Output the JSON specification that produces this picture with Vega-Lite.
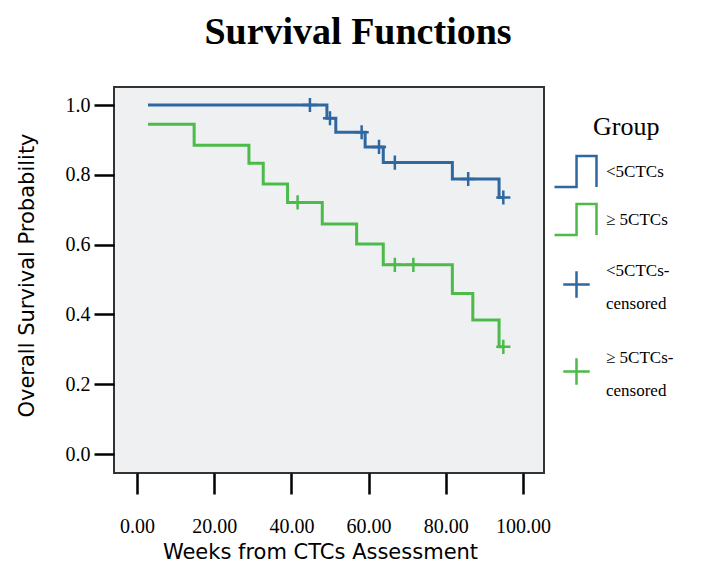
{
  "$schema": "https://vega.github.io/schema/vega-lite/v6.json",
  "width": 430,
  "height": 386,
  "autosize": {"type": "none"},
  "padding": {"left": 114, "top": 87, "right": 168, "bottom": 92},
  "background": "white",
  "title": {
    "text": "Survival Functions",
    "font": "Liberation Serif",
    "fontSize": 38,
    "fontWeight": "bold",
    "color": "black",
    "anchor": "middle",
    "dx": 29,
    "offset": 5,
    "baseline": "alphabetic"
  },
  "config": {
    "view": {"fill": "#eef0f2", "stroke": "#333333", "strokeWidth": 2},
    "legend": {"padding": 0},
    "style": {"guide-label": {"lineHeight": 33}}
  },
  "resolve": {"scale": {"color": "independent"}},
  "datasets": {
    "curves": [
      {"group": "<5CTCs", "t": 2.85, "s": 1.0},
      {"group": "<5CTCs", "t": 49.2, "s": 0.962},
      {"group": "<5CTCs", "t": 51.5, "s": 0.922},
      {"group": "<5CTCs", "t": 59.1, "s": 0.88},
      {"group": "<5CTCs", "t": 63.8, "s": 0.835},
      {"group": "<5CTCs", "t": 81.7, "s": 0.788},
      {"group": "<5CTCs", "t": 93.8, "s": 0.735},
      {"group": "<5CTCs", "t": 94.9, "s": 0.735},
      {"group": "≥ 5CTCs", "t": 2.85, "s": 0.945},
      {"group": "≥ 5CTCs", "t": 14.8, "s": 0.885},
      {"group": "≥ 5CTCs", "t": 29.0, "s": 0.833},
      {"group": "≥ 5CTCs", "t": 32.7, "s": 0.774},
      {"group": "≥ 5CTCs", "t": 39.0, "s": 0.721},
      {"group": "≥ 5CTCs", "t": 48.0, "s": 0.659},
      {"group": "≥ 5CTCs", "t": 56.9, "s": 0.602},
      {"group": "≥ 5CTCs", "t": 63.8, "s": 0.542},
      {"group": "≥ 5CTCs", "t": 81.7, "s": 0.46},
      {"group": "≥ 5CTCs", "t": 87.0, "s": 0.384},
      {"group": "≥ 5CTCs", "t": 93.8, "s": 0.307},
      {"group": "≥ 5CTCs", "t": 94.9, "s": 0.307}
    ],
    "censored": [
      {"cens": "<5CTCs-censored", "t": 44.8, "s": 1.0},
      {"cens": "<5CTCs-censored", "t": 50.0, "s": 0.962},
      {"cens": "<5CTCs-censored", "t": 58.2, "s": 0.922},
      {"cens": "<5CTCs-censored", "t": 62.7, "s": 0.88},
      {"cens": "<5CTCs-censored", "t": 66.8, "s": 0.835},
      {"cens": "<5CTCs-censored", "t": 85.8, "s": 0.788},
      {"cens": "<5CTCs-censored", "t": 94.9, "s": 0.735},
      {"cens": "≥ 5CTCs-censored", "t": 41.6, "s": 0.721},
      {"cens": "≥ 5CTCs-censored", "t": 66.8, "s": 0.542},
      {"cens": "≥ 5CTCs-censored", "t": 71.6, "s": 0.542},
      {"cens": "≥ 5CTCs-censored", "t": 94.9, "s": 0.307}
    ]
  },
  "encoding": {
    "x": {
      "field": "t",
      "type": "quantitative",
      "scale": {"domain": [-5.96, 105.44], "nice": false, "zero": false},
      "axis": {
        "values": [0, 20, 40, 60, 80, 100],
        "format": ".2f",
        "title": "Weeks from CTCs Assessment",
        "domain": false,
        "grid": false,
        "tickSize": 21,
        "tickWidth": 2.5,
        "tickColor": "black",
        "labelFont": "Liberation Serif",
        "labelFontSize": 20,
        "labelColor": "black",
        "labelPadding": 22,
        "titleFont": "DejaVu Sans",
        "titleFontSize": 21,
        "titleFontWeight": "normal",
        "titleColor": "black",
        "titleX": 206,
        "titleY": 79,
        "titleAlign": "center",
        "titleBaseline": "middle"
      }
    },
    "y": {
      "field": "s",
      "type": "quantitative",
      "scale": {"domain": [-0.0544, 1.0516], "nice": false, "zero": false},
      "axis": {
        "values": [0, 0.2, 0.4, 0.6, 0.8, 1.0],
        "format": ".1f",
        "title": "Overall Survival Probability",
        "domain": false,
        "grid": false,
        "tickSize": 20,
        "tickWidth": 2.5,
        "tickColor": "black",
        "labelFont": "Liberation Serif",
        "labelFontSize": 20,
        "labelColor": "black",
        "labelPadding": 4,
        "titleFont": "DejaVu Sans",
        "titleFontSize": 21,
        "titleFontWeight": "normal",
        "titleColor": "black",
        "titleAngle": -90,
        "titleX": -87,
        "titleY": 188,
        "titleAlign": "center",
        "titleBaseline": "middle"
      }
    }
  },
  "layer": [
    {
      "data": {"name": "curves"},
      "mark": {"type": "line", "interpolate": "step-after", "strokeWidth": 3},
      "encoding": {
        "color": {
          "field": "group",
          "type": "nominal",
          "scale": {"domain": ["<5CTCs", "≥ 5CTCs"], "range": ["#2f67a0", "#4cbb4a"]},
          "legend": {
            "title": "Group",
            "orient": "none",
            "legendX": 439,
            "legendY": 27,
            "symbolType": "M-1,0.74H0.05V-0.74H1V0.74",
            "symbolSize": 1764,
            "symbolStrokeWidth": 2.5,
            "symbolFillColor": "transparent",
            "labelFont": "Liberation Serif",
            "labelFontSize": 17,
            "labelColor": "black",
            "labelOffset": 8,
            "rowPadding": 4,
            "titleFont": "Liberation Serif",
            "titleFontSize": 26,
            "titleFontWeight": "normal",
            "titleColor": "black",
            "titleAnchor": "start",
            "titlePadding": 9,
            "encode": {
              "title": {"update": {"dx": {"value": 40}}}
            }
          }
        }
      }
    },
    {
      "data": {"name": "censored"},
      "mark": {"type": "point", "filled": false, "strokeWidth": 2.5, "size": 200, "opacity": 1},
      "encoding": {
        "color": {
          "field": "cens",
          "type": "nominal",
          "scale": {"domain": ["<5CTCs-censored", "≥ 5CTCs-censored"], "range": ["#2f67a0", "#4cbb4a"]},
          "legend": {
            "title": null,
            "orient": "none",
            "legendX": 448,
            "legendY": 169,
            "symbolType": "M-1,1.06H1M0,0.06V2.06",
            "symbolSize": 700,
            "symbolStrokeWidth": 2.5,
            "symbolOpacity": 1,
            "symbolFillColor": "transparent",
            "labelFont": "Liberation Serif",
            "labelFontSize": 17,
            "labelColor": "black",
            "labelOffset": 15,
            "rowPadding": 31,
            "labelExpr": "datum.label == '<5CTCs-censored' ? ['<5CTCs-', 'censored'] : ['≥ 5CTCs-', 'censored']"
          }
        },
        "shape": {
          "field": "cens",
          "type": "nominal",
          "scale": {
            "domain": ["<5CTCs-censored", "≥ 5CTCs-censored"],
            "range": ["M-1,0H1M0,-1V1", "M-1,0H1M0,-1V1"]
          },
          "legend": null
        }
      }
    }
  ]
}
